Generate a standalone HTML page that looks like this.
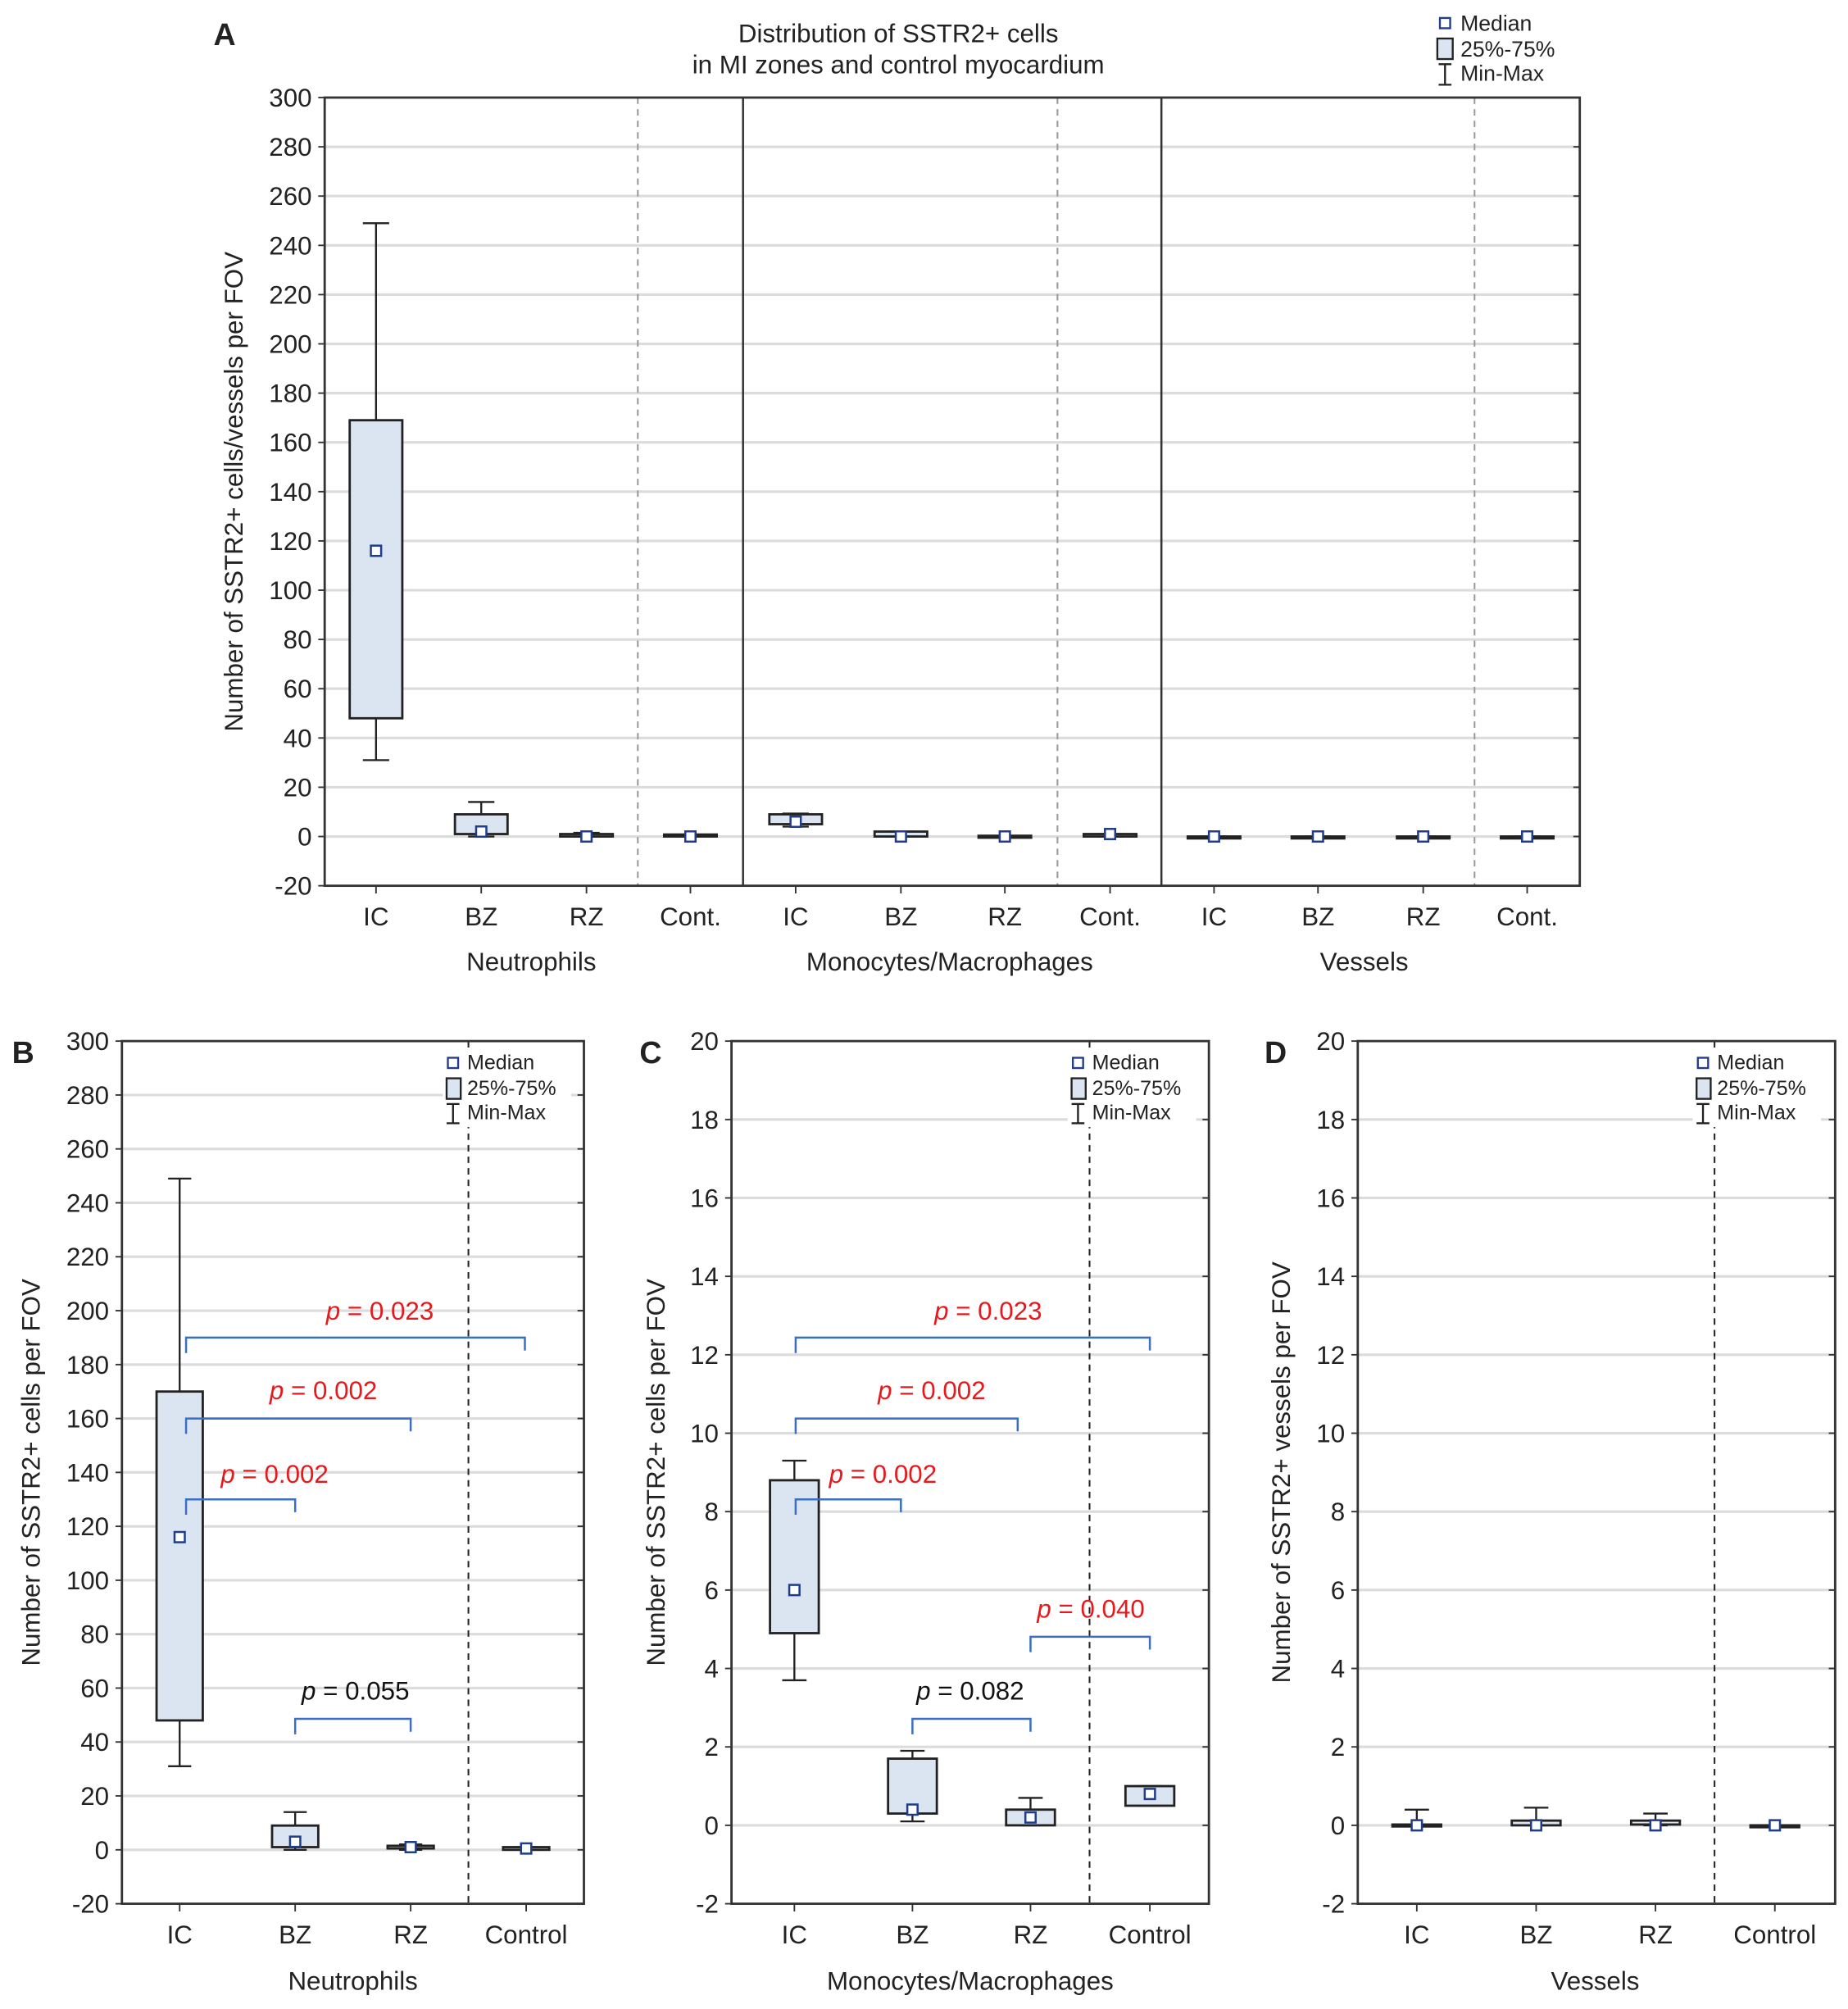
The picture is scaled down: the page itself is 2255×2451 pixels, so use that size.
<!DOCTYPE html>
<html><head><meta charset="utf-8"><style>
html,body{margin:0;padding:0;background:#fff}
svg{display:block}
text{font-family:"Liberation Sans",Arial,sans-serif;fill:#222}
</style></head><body>
<svg id="s" width="2255" height="2451" viewBox="0 0 1440 1565" preserveAspectRatio="none" xmlns="http://www.w3.org/2000/svg"></svg>
<script>
const s=document.getElementById('s');let h='';
function L(x1,y1,x2,y2,c,w,d){h+=`<line x1="${x1}" y1="${y1}" x2="${x2}" y2="${y2}" stroke="${c}" stroke-width="${w}"${d?` stroke-dasharray="${d}"`:''}/>`}
function T(x,y,t,sz,a,ex){h+=`<text x="${x}" y="${y}" font-size="${sz}" text-anchor="${a||'middle'}" ${ex||''}>${t}</text>`}
function panel(o){
 const Y=v=>o.top+(o.max-v)/(o.max-o.min)*(o.bot-o.top);
 for(let v=o.min;v<=o.max;v+=o.step){const y=Y(v);
  if(v>o.min&&v<o.max)L(o.l,y,o.r,y,'#dcdcdc',2);
  L(o.l-5,y,o.l,y,'#333',1.2);L(o.r-5,y,o.r,y,'#333',1.2);
  T(o.l-10,y+7,v,o.fs,'end');}
 o.cats.forEach((c,i)=>{L(c,o.bot,c,o.bot+6,'#333',1.2);T(c,o.bot+31,o.labels[i],o.fs);});
 o.dash.forEach(x=>L(x,o.top,x,o.bot,o.dc||'#999',1.3,'5,4'));
 (o.solid||[]).forEach(x=>L(x,o.top,x,o.bot,'#333',1.6));
 // legend
 if(o.leg){const[lx,ly]=o.leg;h+=`<rect x="${lx-8}" y="${ly-12}" width="100" height="60" fill="#fff"/>`;
  h+=`<rect x="${lx-4}" y="${ly-6}" width="8" height="8" fill="none" stroke="#1f3d8a" stroke-width="1.5"/>`;T(lx+11,ly+3,'Median',16,'start');
  h+=`<rect x="${lx-5}" y="${ly+10}" width="11" height="16" fill="#dbe5f1" stroke="#222" stroke-width="1.5"/>`;T(lx+11,ly+23,'25%-75%',16,'start');
  L(lx,ly+30,lx,ly+45,'#222',1.5);L(lx-5,ly+30,lx+5,ly+30,'#222',1.5);L(lx-5,ly+45,lx+5,ly+45,'#222',1.5);T(lx+11,ly+42,'Min-Max',16,'start');}
 o.data.forEach((d,i)=>{if(!d)return;const x=o.cats[i],w=o.bw/2;const[mn,q1,md,q3,mx]=d;
  L(x,Y(mx),x,Y(q3),'#222',1.5);L(x,Y(q1),x,Y(mn),'#222',1.5);
  L(x-w/2,Y(mx),x+w/2,Y(mx),'#222',1.5);L(x-w/2,Y(mn),x+w/2,Y(mn),'#222',1.5);
  const hh=Math.max(Y(q1)-Y(q3),1.5);
  h+=`<rect x="${x-w}" y="${Y(q3)}" width="${2*w}" height="${hh}" fill="#dbe5f1" stroke="#222" stroke-width="1.8"/>`;
  h+=`<rect x="${x-4}" y="${Y(md)-4}" width="8" height="8" fill="#fff" stroke="#1f3d8a" stroke-width="1.6"/>`;});
 h+=`<rect x="${o.l}" y="${o.top}" width="${o.r-o.l}" height="${o.bot-o.top}" fill="none" stroke="#333" stroke-width="1.8"/>`;
 (o.br||[]).forEach(b=>{const[x1,x2,y,lab,col,lx,ly]=b;
  h+=`<polyline points="${x1},${y+12} ${x1},${y} ${x2},${y} ${x2},${y+10}" fill="none" stroke="#3a6fc4" stroke-width="1.6"/>`;
  h+=`<text x="${lx}" y="${ly}" font-size="20" text-anchor="middle" style="fill:${col}"><tspan font-style="italic" style="fill:${col}">p</tspan> = ${lab}</text>`;});
}
// Panel A
panel({l:253,r:1231,top:76,bot:690,min:-20,max:300,step:20,fs:20,
 cats:[293,375,457,538,620,702,783,865,946,1027,1109,1190],
 labels:['IC','BZ','RZ','Cont.','IC','BZ','RZ','Cont.','IC','BZ','RZ','Cont.'],
 dash:[497,824,1149],solid:[579,905],bw:41,
 data:[[31,48,116,169,249],[0,1,2,9,14],[0,0,0,1,1.5],[0,0,0,0.8,0.8],[4,5,6,9,9.3],[0,0,0,2,2],[0,0,0,0.3,0.3],[0,0,1,1,1],[0,0,0,0,0],[0,0,0,0,0],[0,0,0,0,0],[0,0,0,0,0]]});
T(175,35,'A',24,'middle','font-weight="bold"');
T(700,33,'Distribution of SSTR2+ cells',20);T(700,57,'in MI zones and control myocardium',20);
h+=`<rect x="1122" y="14" width="8" height="8" fill="none" stroke="#1f3d8a" stroke-width="1.5"/>`;T(1138,24,'Median',17,'start');
h+=`<rect x="1120" y="30" width="12" height="16" fill="#dbe5f1" stroke="#222" stroke-width="1.5"/>`;T(1138,44,'25%-75%',17,'start');
L(1126,50,1126,66,'#222',1.5);L(1121,50,1131,50,'#222',1.5);L(1121,66,1131,66,'#222',1.5);T(1138,63,'Min-Max',17,'start');
T(414,756,'Neutrophils',20);T(740,756,'Monocytes/Macrophages',20);T(1063,756,'Vessels',20);
T(0,0,'Number of SSTR2+ cells/vessels per FOV',20,'middle','transform="translate(189,383) rotate(-90)"');
// Panel B
panel({l:95,r:455,top:811,bot:1483,min:-20,max:300,step:20,fs:20,cats:[140,230,320,410],labels:['IC','BZ','RZ','Control'],
 dash:[365],dc:'#222',bw:36,leg:[353,830],
 data:[[31,48,116,170,249],[0,1,3,9,14],[0,0.5,1,1.5,2],[0,0,0.5,1,1]],
 br:[[145,409,1042,'0.023','#e8191c',296,1028],[145,320,1105,'0.002','#e8191c',252,1090],[145,230,1168,'0.002','#e8191c',214,1155],[230,320,1339,'0.055','#111',277,1324]]});
T(18,828,'B',24,'middle','font-weight="bold"');
T(275,1550,'Neutrophils',20);
T(0,0,'Number of SSTR2+ cells per FOV',20,'middle','transform="translate(31,1147) rotate(-90)"');
// Panel C
panel({l:570,r:942,top:811,bot:1483,min:-2,max:20,step:2,fs:20,cats:[619,711,803,896],labels:['IC','BZ','RZ','Control'],
 dash:[849],dc:'#222',bw:38,leg:[840,830],
 data:[[3.7,4.9,6,8.8,9.3],[0.1,0.3,0.4,1.7,1.9],[0,0,0.2,0.4,0.7],[0.5,0.5,0.8,1,1]],
 br:[[620,896,1042,'0.023','#e8191c',770,1028],[620,793,1105,'0.002','#e8191c',726,1090],[620,702,1168,'0.002','#e8191c',688,1155],[803,896,1275,'0.040','#e8191c',850,1260],[711,803,1339,'0.082','#111',756,1324]]});
T(507,828,'C',24,'middle','font-weight="bold"');
T(756,1550,'Monocytes/Macrophages',20);
T(0,0,'Number of SSTR2+ cells per FOV',20,'middle','transform="translate(518,1147) rotate(-90)"');
// Panel D
panel({l:1058,r:1430,top:811,bot:1483,min:-2,max:20,step:2,fs:20,cats:[1104,1197,1290,1383],labels:['IC','BZ','RZ','Control'],
 dash:[1336],dc:'#222',bw:38,leg:[1327,830],
 data:[[0,0,0,0.02,0.4],[0,0,0,0.12,0.45],[0,0.02,0,0.12,0.3],[0,0,0,0,0]]});
T(994,828,'D',24,'middle','font-weight="bold"');
T(1243,1550,'Vessels',20);
T(0,0,'Number of SSTR2+ vessels per FOV',20,'middle','transform="translate(1005,1147) rotate(-90)"');
s.innerHTML=h;
</script>
</body></html>
